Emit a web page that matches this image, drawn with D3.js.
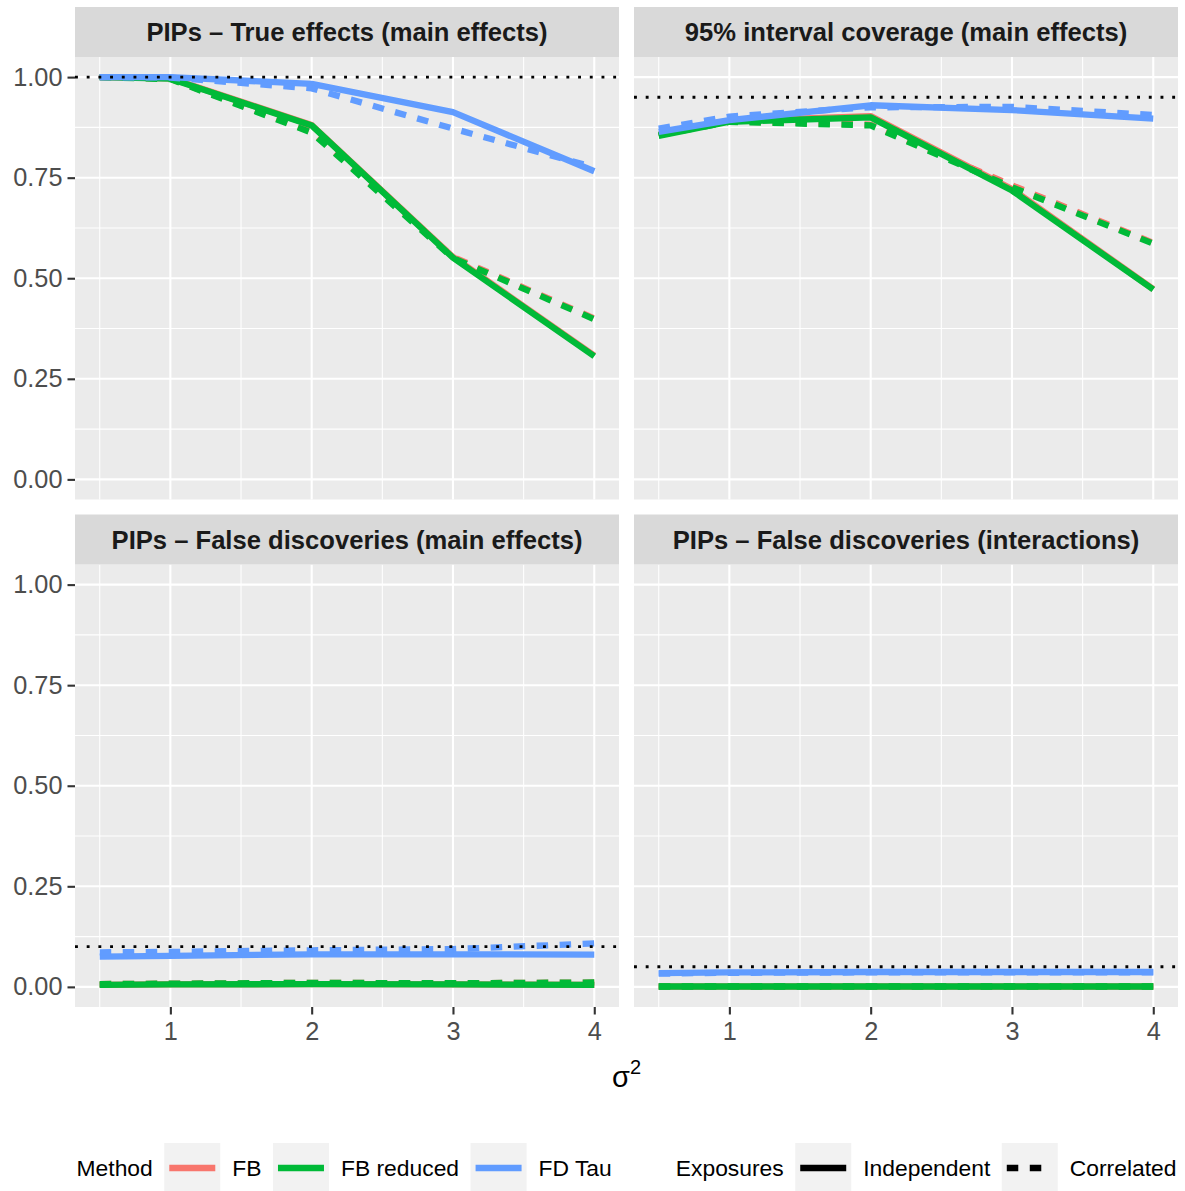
<!DOCTYPE html>
<html>
<head>
<meta charset="utf-8">
<script src="https://cdn.jsdelivr.net/npm/d3@7"></script>
<style>
  html, body { margin: 0; padding: 0; background: #ffffff; }
  svg { display: block; font-family: "Liberation Sans", Arial, sans-serif; }
</style>
</head>
<body>
<svg id="chart" width="1185" height="1191"></svg>
<script>
// ---------------- data ----------------
const sigma2 = [0.5, 1, 2, 3, 4];
const xTicks = [1, 2, 3, 4];
const yTicks = [0, 0.25, 0.5, 0.75, 1];
const yTickLabels = ["0.00", "0.25", "0.50", "0.75", "1.00"];
const methods = ["FB", "FB reduced", "FD Tau"];
const methodColors = ["#F8766D", "#00BA38", "#619CFF"];
const exposures = ["Independent", "Correlated"];
const panelTitles = [
  "PIPs \u2013 True effects (main effects)",
  "95% interval coverage (main effects)",
  "PIPs \u2013 False discoveries (main effects)",
  "PIPs \u2013 False discoveries (interactions)"
];
const refLines = [1.0, 0.95, 0.10, 0.05];

// Panel 1: PIPs - true effects (main effects)
const p1FBInd  = [1.000, 0.997, 0.881, 0.553, 0.308];
const p1FBCor  = [1.000, 0.996, 0.864, 0.553, 0.400];
const p1FBrInd = [1.000, 0.996, 0.880, 0.551, 0.306];
const p1FBrCor = [1.000, 0.995, 0.862, 0.550, 0.398];
const p1FDInd  = [1.000, 1.000, 0.983, 0.913, 0.766];
const p1FDCor  = [1.000, 0.999, 0.972, 0.872, 0.776];

// Panel 2: 95% interval coverage (main effects)
const p2FBInd  = [0.856, 0.891, 0.903, 0.722, 0.473];
const p2FBCor  = [0.857, 0.890, 0.882, 0.731, 0.588];
const p2FBrInd = [0.854, 0.889, 0.900, 0.718, 0.472];
const p2FBrCor = [0.856, 0.889, 0.880, 0.726, 0.586];
const p2FDInd  = [0.864, 0.893, 0.930, 0.918, 0.897];
const p2FDCor  = [0.872, 0.902, 0.925, 0.926, 0.906];

// Panel 3: PIPs - false discoveries (main effects)
const p3FBInd  = [0.005, 0.006, 0.007, 0.006, 0.005];
const p3FBCor  = [0.007, 0.008, 0.010, 0.009, 0.011];
const p3FBrInd = [0.005, 0.006, 0.007, 0.006, 0.005];
const p3FBrCor = [0.007, 0.008, 0.010, 0.009, 0.011];
const p3FDInd  = [0.075, 0.077, 0.081, 0.081, 0.080];
const p3FDCor  = [0.086, 0.087, 0.091, 0.094, 0.108];

// Panel 4: PIPs - false discoveries (interactions)
const p4FBInd  = [0.001, 0.001, 0.001, 0.001, 0.001];
const p4FBCor  = [0.001, 0.001, 0.001, 0.001, 0.001];
const p4FBrInd = [0.001, 0.001, 0.001, 0.001, 0.001];
const p4FBrCor = [0.001, 0.001, 0.001, 0.001, 0.001];
const p4FDInd  = [0.034, 0.036, 0.037, 0.037, 0.037];
const p4FDCor  = [0.033, 0.035, 0.036, 0.036, 0.036];

const panelSeries = [
  [[p1FBInd, p1FBCor], [p1FBrInd, p1FBrCor], [p1FDInd, p1FDCor]],
  [[p2FBInd, p2FBCor], [p2FBrInd, p2FBrCor], [p2FDInd, p2FDCor]],
  [[p3FBInd, p3FBCor], [p3FBrInd, p3FBrCor], [p3FDInd, p3FDCor]],
  [[p4FBInd, p4FBCor], [p4FBrInd, p4FBrCor], [p4FDInd, p4FDCor]]
];

// ---------------- layout ----------------
const svg = d3.select("#chart");
const colX = [[75, 619], [634, 1178]];
const rowY = [{strip: 7, top: 57, bottom: 499.5}, {strip: 514.5, top: 564.5, bottom: 1007}];
const stripH = 50;
const tickFont = 25.3;
const lineW = 6.3;
const dashPat = "11.5,11.5";

const line = (x, y) => d3.line().x((d, i) => x(sigma2[i])).y(d => y(d));

panelTitles.forEach((title, p) => {
  const col = p % 2, row = Math.floor(p / 2);
  const [x0, x1] = colX[col];
  const r = rowY[row];
  const x = d3.scaleLinear().domain([0.325, 4.175]).range([x0, x1]);
  const y = d3.scaleLinear().domain([-0.05, 1.05]).range([r.bottom, r.top]);
  const g = svg.append("g");

  // panel background
  g.append("rect").attr("x", x0).attr("y", r.top).attr("width", x1 - x0)
    .attr("height", r.bottom - r.top).attr("fill", "#EBEBEB");

  // minor grid
  const xMinor = [0.5, 1.5, 2.5, 3.5];
  const yMinor = [0.125, 0.375, 0.625, 0.875];
  g.selectAll(null).data(xMinor).join("line")
    .attr("x1", d => x(d)).attr("x2", d => x(d)).attr("y1", r.top).attr("y2", r.bottom)
    .attr("stroke", "#fff").attr("stroke-width", 1.05);
  g.selectAll(null).data(yMinor).join("line")
    .attr("y1", d => y(d)).attr("y2", d => y(d)).attr("x1", x0).attr("x2", x1)
    .attr("stroke", "#fff").attr("stroke-width", 1.05);
  // major grid
  g.selectAll(null).data(xTicks).join("line")
    .attr("x1", d => x(d)).attr("x2", d => x(d)).attr("y1", r.top).attr("y2", r.bottom)
    .attr("stroke", "#fff").attr("stroke-width", 2.1);
  g.selectAll(null).data(yTicks).join("line")
    .attr("y1", d => y(d)).attr("y2", d => y(d)).attr("x1", x0).attr("x2", x1)
    .attr("stroke", "#fff").attr("stroke-width", 2.1);

  // strip
  g.append("rect").attr("x", x0).attr("y", r.strip).attr("width", x1 - x0)
    .attr("height", stripH).attr("fill", "#D9D9D9");
  g.append("text").attr("x", (x0 + x1) / 2).attr("y", r.strip + stripH / 2 + 9)
    .attr("text-anchor", "middle").attr("font-weight", "bold").attr("font-size", 25.6)
    .attr("fill", "#1A1A1A").text(title);

  // data lines
  const clip = "clip" + p;
  svg.append("clipPath").attr("id", clip).append("rect")
    .attr("x", x0).attr("y", r.top).attr("width", x1 - x0).attr("height", r.bottom - r.top);
  const lg = g.append("g").attr("clip-path", `url(#${clip})`);
  panelSeries[p].forEach((pair, m) => {
    pair.forEach((vals, e) => {
      lg.append("path").datum(vals)
        .attr("d", line(x, y))
        .attr("fill", "none")
        .attr("stroke", methodColors[m])
        .attr("stroke-width", lineW)
        .attr("stroke-linejoin", "round")
        .attr("stroke-linecap", "butt")
        .attr("stroke-dasharray", e === 1 ? dashPat : null);
    });
  });

  // reference line
  lg.append("line").attr("x1", x0).attr("x2", x1)
    .attr("y1", y(refLines[p])).attr("y2", y(refLines[p]))
    .attr("stroke", "#000").attr("stroke-width", 2.9)
    .attr("stroke-dasharray", "2.9,8.8");

  // axes
  if (col === 0) {
    const ya = g.append("g").attr("transform", `translate(${x0},0)`)
      .call(d3.axisLeft(y).tickValues(yTicks).tickFormat((d, i) => yTickLabels[i]).tickSize(7.5).tickPadding(5));
    ya.select(".domain").remove();
    ya.selectAll(".tick line").attr("stroke", "#333333").attr("stroke-width", 2.1);
    ya.selectAll(".tick text").attr("fill", "#4D4D4D").attr("font-size", tickFont)
      .attr("font-family", "Liberation Sans, Arial, sans-serif");
  }
  if (row === 1) {
    const xa = g.append("g").attr("transform", `translate(0,${r.bottom})`)
      .call(d3.axisBottom(x).tickValues(xTicks).tickFormat(d3.format("d")).tickSize(7.5).tickPadding(7.5));
    xa.select(".domain").remove();
    xa.selectAll(".tick line").attr("stroke", "#333333").attr("stroke-width", 2.1);
    xa.selectAll(".tick text").attr("fill", "#4D4D4D").attr("font-size", tickFont)
      .attr("font-family", "Liberation Sans, Arial, sans-serif");
  }
});

// x-axis title: sigma^2
const xt = svg.append("text").attr("x", 626.5).attr("y", 1087)
  .attr("text-anchor", "middle").attr("font-size", 29).attr("fill", "#000");
xt.append("tspan").text("\u03C3");
xt.append("tspan").attr("font-size", 20).attr("dy", -13).text("2");

// ---------------- legend ----------------
const legY = 1168;
const keyW = 56, keyH = 50;
const legFont = 22.85;
const leg = svg.append("g");
const items = [];
items.push({type: "title", text: "Method"});
methods.forEach((m, i) => items.push({type: "key", color: methodColors[i], dash: null, text: m}));
items.push({type: "gap"});
items.push({type: "title", text: "Exposures"});
exposures.forEach((e, i) => items.push({type: "key", color: "#000", dash: i === 1 ? dashPat : null, text: e}));

function textW(t) {
  const tmp = leg.append("text").attr("font-size", legFont).text(t);
  const w = tmp.node().getComputedTextLength();
  tmp.remove();
  return w;
}
let total = 0;
const gapAfterText = 11.5, gapKeyText = 12, legendGap = 64;
items.forEach(it => {
  if (it.type === "title") total += textW(it.text) + gapAfterText;
  else if (it.type === "key") total += keyW + gapKeyText + textW(it.text) + gapAfterText;
  else total += legendGap - gapAfterText;
});
total -= gapAfterText;
let cx = 626.5 - total / 2;
items.forEach(it => {
  if (it.type === "title") {
    leg.append("text").attr("x", cx).attr("y", legY + 8).attr("font-size", legFont)
      .attr("fill", "#000").text(it.text);
    cx += textW(it.text) + gapAfterText;
  } else if (it.type === "key") {
    leg.append("rect").attr("x", cx).attr("y", legY - keyH / 2).attr("width", keyW)
      .attr("height", keyH).attr("fill", "#F2F2F2");
    leg.append("line").attr("x1", cx + 5).attr("x2", cx + keyW - 5)
      .attr("y1", legY).attr("y2", legY)
      .attr("stroke", it.color).attr("stroke-width", lineW)
      .attr("stroke-dasharray", it.dash);
    cx += keyW + gapKeyText;
    leg.append("text").attr("x", cx).attr("y", legY + 8).attr("font-size", legFont)
      .attr("fill", "#000").text(it.text);
    cx += textW(it.text) + gapAfterText;
  } else {
    cx += legendGap - gapAfterText;
  }
});
</script>
</body>
</html>
